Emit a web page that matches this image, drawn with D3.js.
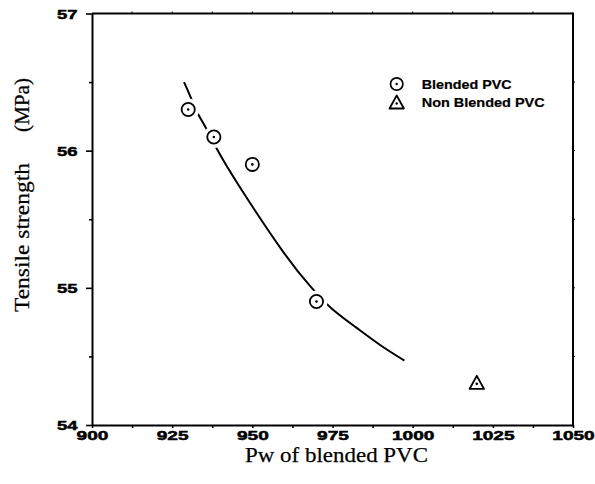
<!DOCTYPE html>
<html>
<head>
<meta charset="utf-8">
<script src="https://cdn.jsdelivr.net/npm/d3@7"></script>
<style>
  html, body { margin: 0; padding: 0; background: #fff; }
  svg { display: block; }
</style>
</head>
<body>
<svg id="chart" width="595" height="484"></svg>
<script>
// Measured tensile strength of the blended PVC samples
const blendedPw = [930, 938, 950, 970];
const blendedTS = [56.3, 56.1, 55.9, 54.9];

// Reference sample without blending
const nonBlendedPw = [1020];
const nonBlendedTS = [54.3];

// Trend line drawn through the blended samples
const fitPw = [928.7, 930.8, 932.6, 935.8, 938.4, 944.1, 961.7, 968.5, 974.2, 982.5, 989.8, 997.4];
const fitTS = [56.50, 56.39, 56.28, 56.16, 56.03, 55.80, 55.18, 55.00, 54.85, 54.71, 54.58, 54.47];

// Axes
const xTicks = [900, 925, 950, 975, 1000, 1025, 1050];
const yTicks = [54, 55, 56, 57];
const xMinorStep = 12.5;
const yMinorStep = 0.5;

const xTitle = "Pw of blended PVC";
const yTitleMain = "Tensile strength";
const yTitleUnit = "(MPa)";
const legendLabels = ["Blended PVC", "Non Blended PVC"];

const svg = d3.select("#chart");
svg.append("rect").attr("width", 595).attr("height", 484).attr("fill", "#fff");

const x = d3.scaleLinear().domain([900, 1050]).range([92, 573]);
const y = d3.scaleLinear().domain([54, 57]).range([425, 13.5]);

const sans = "'Liberation Sans', Arial, Helvetica, sans-serif";
const serif = "'Liberation Serif', 'Times New Roman', serif";

const xAll = d3.range(900, 1050 + 1e-9, xMinorStep);
const yMinor = d3.range(54, 57 + 1e-9, yMinorStep).filter(v => !yTicks.includes(v));

// Bottom axis: small outward ticks every 12.5, labels at the majors
const gx = svg.append("g").attr("transform", `translate(0,${y.range()[0]})`)
  .call(d3.axisBottom(x).tickValues(xAll).tickSizeInner(3).tickSizeOuter(0)
    .tickFormat(d => xTicks.includes(d) ? String(d) : ""));
gx.select(".domain").attr("stroke-width", 2);
gx.selectAll(".tick line").attr("stroke-width", 1.6);
gx.selectAll("text")
  .attr("y", 15).attr("dy", null)
  .attr("font-family", sans).attr("font-weight", "bold").attr("font-size", 13)
  .attr("fill", "#000").attr("stroke", "#000").attr("stroke-width", 0.5)
  .each(function(d) {
    const s = String(d);
    if (s && xTicks.includes(d)) d3.select(this).attr("textLength", s.length * 10.6).attr("lengthAdjust", "spacingAndGlyphs");
  });

// Left axis: major and minor ticks pointing outward
const gyMinor = svg.append("g").attr("transform", `translate(${x.range()[0]},0)`)
  .call(d3.axisLeft(y).tickValues(yMinor).tickSizeInner(3).tickSizeOuter(0).tickFormat(""));
gyMinor.select(".domain").remove();
gyMinor.selectAll(".tick line").attr("stroke-width", 1.6);

const gy = svg.append("g").attr("transform", `translate(${x.range()[0]},0)`)
  .call(d3.axisLeft(y).tickValues(yTicks).tickSizeInner(6).tickSizeOuter(0).tickFormat(d3.format("d")));
gy.select(".domain").attr("stroke-width", 2);
gy.selectAll(".tick line").attr("stroke-width", 1.6);
gy.selectAll("text")
  .attr("x", -14.5).attr("dy", "0.36em")
  .attr("font-family", sans).attr("font-weight", "bold").attr("font-size", 13.5)
  .attr("fill", "#000").attr("stroke", "#000").attr("stroke-width", 0.5)
  .attr("textLength", d => String(d).length * 10.3).attr("lengthAdjust", "spacingAndGlyphs");

// Top and right frame lines with tiny outward ticks
const frame = svg.append("g").attr("stroke", "#000");
frame.append("line")
  .attr("x1", x.range()[0]).attr("x2", x.range()[1])
  .attr("y1", y.range()[1]).attr("y2", y.range()[1]).attr("stroke-width", 2);
frame.append("line")
  .attr("x1", x.range()[1]).attr("x2", x.range()[1])
  .attr("y1", y.range()[1] - 1).attr("y2", y.range()[0] + 1).attr("stroke-width", 2);
frame.selectAll(".tt").data(xAll.slice(1, -1)).join("line").attr("class", "tt")
  .attr("x1", d => x(d)).attr("x2", d => x(d))
  .attr("y1", y.range()[1]).attr("y2", y.range()[1] - 2).attr("stroke-width", 1);
frame.selectAll(".rt").data(d3.range(54, 57 + 1e-9, yMinorStep).slice(1, -1)).join("line").attr("class", "rt")
  .attr("x1", x.range()[1]).attr("x2", x.range()[1] + 2)
  .attr("y1", d => y(d)).attr("y2", d => y(d)).attr("stroke-width", 1);

// Trend curve
const fit = fitPw.map((p, i) => [p, fitTS[i]]);
svg.append("path")
  .datum(fit)
  .attr("fill", "none").attr("stroke", "#000").attr("stroke-width", 2)
  .attr("d", d3.line().x(d => x(d[0])).y(d => y(d[1])).curve(d3.curveBasis));

// Blended samples: open circles with a centre dot, the curve broken around them
const blended = blendedPw.map((p, i) => [p, blendedTS[i]]);
const gb = svg.append("g");
gb.selectAll(".halo").data(blended).join("circle").attr("class", "halo")
  .attr("cx", d => x(d[0])).attr("cy", d => y(d[1])).attr("r", 11).attr("fill", "#fff");
gb.selectAll(".mk").data(blended).join("circle").attr("class", "mk")
  .attr("cx", d => x(d[0])).attr("cy", d => y(d[1])).attr("r", 6.6)
  .attr("fill", "#fff").attr("stroke", "#000").attr("stroke-width", 1.8);
gb.selectAll(".dot").data(blended).join("circle").attr("class", "dot")
  .attr("cx", d => x(d[0])).attr("cy", d => y(d[1])).attr("r", 1.3).attr("fill", "#000");

// Non-blended sample: open triangle with a centre dot
function triangle(cx, cy) {
  return `M${cx},${cy - 8}L${cx + 7.2},${cy + 5}L${cx - 7.2},${cy + 5}Z`;
}
const nonBlended = nonBlendedPw.map((p, i) => [p, nonBlendedTS[i]]);
const gn = svg.append("g");
gn.selectAll(".tri").data(nonBlended).join("path").attr("class", "tri")
  .attr("d", d => triangle(x(d[0]), y(d[1])))
  .attr("fill", "#fff").attr("stroke", "#000").attr("stroke-width", 1.9).attr("stroke-linejoin", "round");
gn.selectAll(".dot").data(nonBlended).join("circle").attr("class", "dot")
  .attr("cx", d => x(d[0])).attr("cy", d => y(d[1])).attr("r", 1.3).attr("fill", "#000");

// Legend
const lg = svg.append("g").attr("transform", "translate(396.7,0)");
lg.append("circle").attr("cx", 0).attr("cy", 84).attr("r", 6.2)
  .attr("fill", "#fff").attr("stroke", "#000").attr("stroke-width", 1.7);
lg.append("circle").attr("cx", 0).attr("cy", 84).attr("r", 1.2).attr("fill", "#000");
lg.append("path").attr("d", triangle(0, 103.5))
  .attr("fill", "#fff").attr("stroke", "#000").attr("stroke-width", 1.8).attr("stroke-linejoin", "round");
lg.append("circle").attr("cx", 0).attr("cy", 103.5).attr("r", 1.2).attr("fill", "#000");
const legendWidths = [90, 123];
const legendBaselines = [89.3, 107.3];
lg.selectAll(".lt").data(legendLabels).join("text").attr("class", "lt")
  .attr("x", 25).attr("y", (d, i) => legendBaselines[i])
  .attr("font-family", sans).attr("font-size", 12.5).attr("font-weight", "bold")
  .attr("stroke", "#000").attr("stroke-width", 0.2)
  .attr("textLength", (d, i) => legendWidths[i]).attr("lengthAdjust", "spacingAndGlyphs")
  .text(d => d);

// Axis titles
svg.append("text")
  .attr("x", 336.5).attr("y", 462).attr("text-anchor", "middle")
  .attr("font-family", serif).attr("font-size", 22)
  .attr("stroke", "#000").attr("stroke-width", 0.25)
  .attr("textLength", 183).attr("lengthAdjust", "spacingAndGlyphs")
  .text(xTitle);

svg.append("text")
  .attr("transform", "translate(29,312) rotate(-90)")
  .attr("font-family", serif).attr("font-size", 22)
  .attr("stroke", "#000").attr("stroke-width", 0.25)
  .attr("textLength", 149).attr("lengthAdjust", "spacingAndGlyphs")
  .text(yTitleMain);
svg.append("text")
  .attr("transform", "translate(29,132) rotate(-90)")
  .attr("font-family", serif).attr("font-size", 22)
  .attr("stroke", "#000").attr("stroke-width", 0.25)
  .attr("textLength", 54).attr("lengthAdjust", "spacingAndGlyphs")
  .text(yTitleUnit);
</script>
</body>
</html>
